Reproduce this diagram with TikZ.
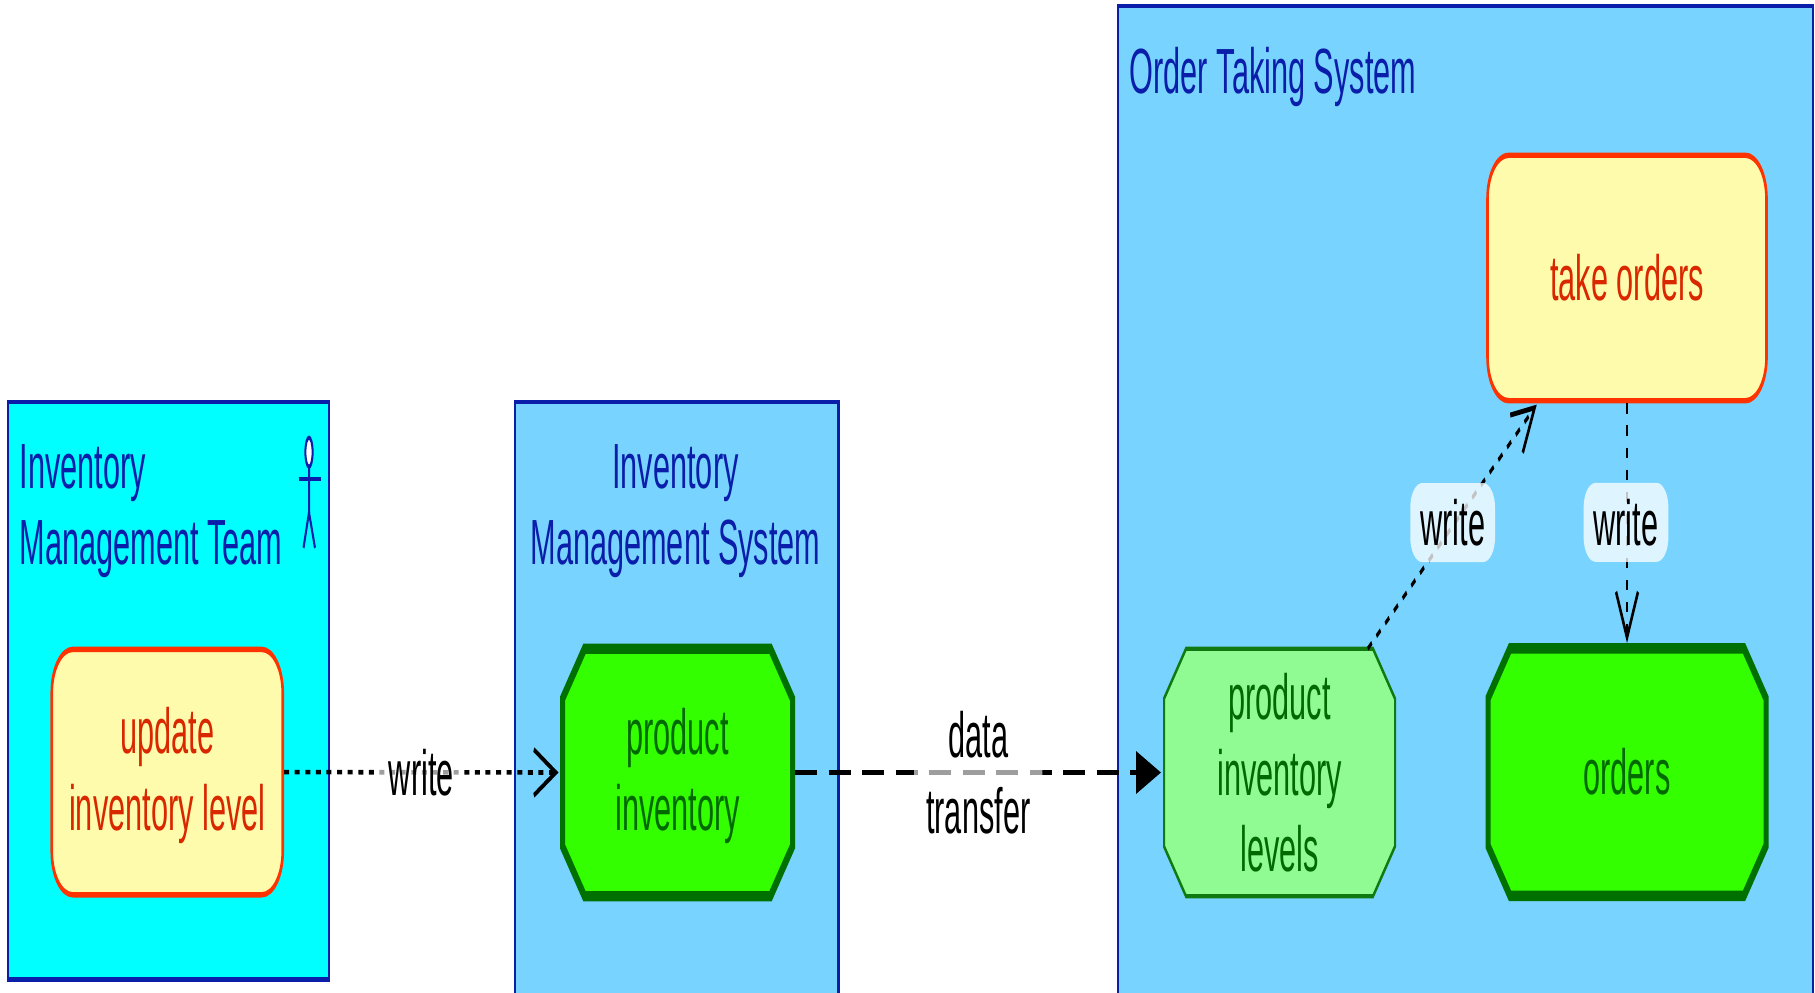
\documentclass[tikz,border=0pt]{standalone}
\usepackage{fontspec}
\setmainfont{Liberation Sans}
\usetikzlibrary{arrows.meta}

\definecolor{boxblue}{HTML}{0A1EAA}
\definecolor{teamfill}{HTML}{00FFFF}
\definecolor{systemfill}{HTML}{78D4FF}
\definecolor{taskfill}{HTML}{FEFBAD}
\definecolor{taskline}{HTML}{FF3300}
\definecolor{tasktext}{HTML}{D92800}
\definecolor{storefill}{HTML}{33FF00}
\definecolor{storeline}{HTML}{007000}
\definecolor{storetext}{HTML}{006A00}
\definecolor{replicafill}{HTML}{90FB92}
\definecolor{replicaline}{HTML}{107A10}

% rectangle with cut corners, the cut does not depend on the text
\makeatletter
\pgfdeclareshape{cutbox}{
	\inheritsavedanchors[from=rectangle]
	\inheritanchorborder[from=rectangle]
	\inheritanchor[from=rectangle]{center}
	\inheritanchor[from=rectangle]{north}
	\inheritanchor[from=rectangle]{south}
	\inheritanchor[from=rectangle]{east}
	\inheritanchor[from=rectangle]{west}
	\backgroundpath{
		\southwest \pgf@xa=\pgf@x \pgf@ya=\pgf@y
		\northeast \pgf@xb=\pgf@x \pgf@yb=\pgf@y
		\pgfpathmoveto{\pgfpoint{\pgf@xa+22pt}{\pgf@ya}}
		\pgfpathlineto{\pgfpoint{\pgf@xb-22pt}{\pgf@ya}}
		\pgfpathlineto{\pgfpoint{\pgf@xb}{\pgf@ya+24pt}}
		\pgfpathlineto{\pgfpoint{\pgf@xb}{\pgf@yb-24pt}}
		\pgfpathlineto{\pgfpoint{\pgf@xb-22pt}{\pgf@yb}}
		\pgfpathlineto{\pgfpoint{\pgf@xa+22pt}{\pgf@yb}}
		\pgfpathlineto{\pgfpoint{\pgf@xa}{\pgf@yb-24pt}}
		\pgfpathlineto{\pgfpoint{\pgf@xa}{\pgf@ya+24pt}}
		\pgfpathclose
	}
}
\makeatother

\newcommand{\lowline}{\rule{0pt}{25.5pt}}

\tikzset{
	labelfont/.style={font=\fontsize{30.7pt}{36.7pt}\selectfont},
	boxtitle/.style={labelfont,text=boxblue,inner sep=0pt},
	boxline/.style={boxblue,line width=2.3pt},
	task/.style={labelfont,draw=taskline,fill=taskfill,text=tasktext,line width=2.6pt,rounded corners=21pt,align=center,minimum height=118pt},
	store/.style={labelfont,shape=cutbox,outer sep=0pt,fill=storefill,text=storetext,align=center,minimum height=119pt},
	mainstore/.style={store,draw=storeline,line width=5pt},
	replica/.style={store,draw=replicaline,fill=replicafill,line width=2pt},
	linklabel/.style={labelfont,fill=white,fill opacity=0.76,text opacity=1,rounded corners=12pt,align=center,inner xsep=10pt,inner ysep=4pt,minimum height=38pt},
	writelink/.style={line width=2.2pt,dash pattern=on 5pt off 5.6pt,-{Straight Barb[length=22pt,width=22pt,line width=2.4pt]}}
}

\begin{document}
\begin{tikzpicture}[x=1pt,y=1pt]

\useasboundingbox (0,0) rectangle (1815,993);

\begin{scope}[transform canvas={yscale=2.08}]

% system boxes
\draw[boxline,fill=teamfill] (8,6.5) rectangle (329,284.1);
\draw[boxline,fill=systemfill] (515,-5) rectangle (838.5,284.1);
\draw[boxline,fill=systemfill] (1118,-5) rectangle (1813,474.5);

\node[boxtitle,anchor=west,align=left] (teamtitle) at (19.5,231.6) {Inventory\\Management Team};
\node[boxtitle,align=center] (systemtitle) at (675.5,231.6) {Inventory\\Management System};
\node[boxtitle,anchor=west] (ordertitle) at (1129.5,440.6) {Order Taking System};

% actor
\draw[boxline,line width=2pt,fill=white] (309,260) ellipse (3.6 and 7);
\draw[boxline,line width=2pt] (309,253) -- (309,231) -- (303.5,214);
\draw[boxline,line width=2pt] (309,231) -- (315,214);
\draw[boxline,line width=2pt] (298.5,247) -- (320.7,247);

% tasks and stores
\node[task,minimum width=231pt] (update) at (167.25,106.2) {\lowline update\\inventory level};
\node[mainstore,minimum width=230pt] (inventory) at (677.5,106) {\lowline product\\inventory};
\node[replica,minimum width=231pt] (levels) at (1279.5,106) {product\\inventory\\levels};
\node[mainstore,minimum width=278pt] (orders) at (1627,106.2) {orders};
\node[task,minimum width=279pt] (take) at (1627,343.75) {take orders};

% links
\draw[writelink,shorten >=4pt] (update.east) -- node[linklabel,fill opacity=0.62,xshift=-2pt] (writeone) {write} (inventory.west);
\draw[line width=2.4pt,dash pattern=on 22pt off 11.5pt,shorten <=2.5pt,shorten >=3pt,-{Triangle[length=25pt,width=20pt]}] (inventory.east) -- node[linklabel,fill opacity=0.62,inner xsep=12pt] (transfer) {data\\transfer} (levels.west);
\draw[writelink,shorten >=1pt] (levels.34.4) -- node[linklabel,yshift=1.7pt] (writetwo) {write} (take.214.8);
\draw[writelink,shorten >=2.5pt] (take.south) -- node[linklabel,xshift=-1pt,yshift=1.7pt] (writethree) {write} (orders.north);

\end{scope}
\end{tikzpicture}
\end{document}
